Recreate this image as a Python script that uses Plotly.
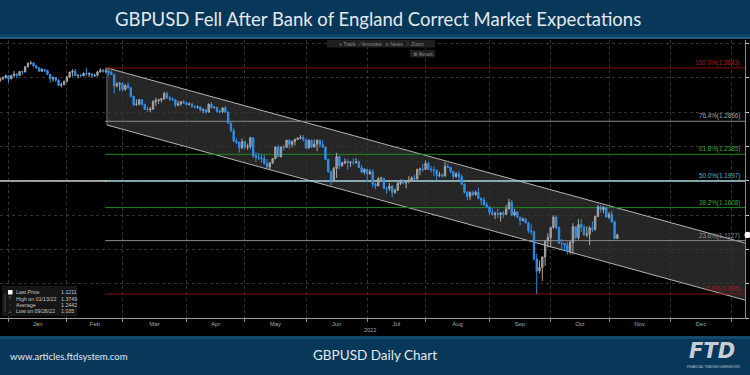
import pandas as pd
import plotly.graph_objects as go

# ---------------- data (GBPUSD daily) ----------------
start_date = "2021-12-29"
end_date = "2022-11-04"

opens = [
    1.3460, 1.3485, 1.3500,
    1.3530, 1.3485, 1.3530, 1.3555, 1.3535, 1.3590, 1.3585, 1.3660, 1.3710, 1.3715, 1.3675, 1.3645, 1.3595, 1.3620, 1.3610, 1.3550, 1.3485, 1.3500, 1.3465, 1.3390, 1.3400,
    1.3450, 1.3510, 1.3580, 1.3595, 1.3530, 1.3535, 1.3530, 1.3560, 1.3555, 1.3560, 1.3530, 1.3535, 1.3585, 1.3610, 1.3590, 1.3600, 1.3575, 1.3545, 1.3380, 1.3410,
    1.3415, 1.3330, 1.3390, 1.3355, 1.3230, 1.3110, 1.3115, 1.3180, 1.3110, 1.3040, 1.3035, 1.3045, 1.3150, 1.3170, 1.3180, 1.3195, 1.3270, 1.3205, 1.3190, 1.3180, 1.3100, 1.3120, 1.3150,
    1.3135, 1.3110, 1.3115, 1.3075, 1.3070, 1.3075, 1.3030, 1.3035, 1.3000, 1.3115, 1.3065, 1.3070, 1.3010, 1.3005, 1.3060, 1.3000, 1.2840, 1.2730, 1.2575, 1.2560, 1.2480,
    1.2570, 1.2490, 1.2500, 1.2625, 1.2360, 1.2340, 1.2330, 1.2320, 1.2250, 1.2200, 1.2260, 1.2320, 1.2490, 1.2350, 1.2490, 1.2485, 1.2590, 1.2530, 1.2570, 1.2600, 1.2620, 1.2630,
    1.2600, 1.2480, 1.2590, 1.2490, 1.2535, 1.2590, 1.2530, 1.2490, 1.2310, 1.2130, 1.2000, 1.2180, 1.2350, 1.2220, 1.2260, 1.2280, 1.2260, 1.2270, 1.2265, 1.2275, 1.2190, 1.2125,
    1.2165, 1.2100, 1.2130, 1.1950, 1.1925, 1.2030, 1.2035, 1.1890, 1.1885, 1.1920, 1.1830, 1.1860, 1.1960, 1.1995, 1.1970, 1.1990, 1.2010, 1.2040, 1.2030, 1.2160, 1.2170,
    1.2165, 1.2250, 1.2170, 1.2160, 1.2150, 1.2075, 1.2080, 1.2070, 1.2210, 1.2195, 1.2135, 1.2060, 1.2100, 1.2060, 1.1950, 1.1830, 1.1770, 1.1830, 1.1800, 1.1830, 1.1740, 1.1720, 1.1650,
    1.1620, 1.1540, 1.1510, 1.1520, 1.1510, 1.1530, 1.1510, 1.1590, 1.1685, 1.1500, 1.1545, 1.1470, 1.1420, 1.1440, 1.1385, 1.1270, 1.1255, 1.0860, 1.0685, 1.0735, 1.0890, 1.1120,
    1.1170, 1.1320, 1.1470, 1.1320, 1.1090, 1.1085, 1.1060, 1.0970, 1.1100, 1.1330, 1.1170, 1.1360, 1.1320, 1.1210, 1.1220, 1.1310, 1.1290, 1.1480, 1.1620, 1.1580, 1.1610,
    1.1470, 1.1510, 1.1400, 1.1160,
]
highs = [
    1.3500, 1.3520, 1.3545,
    1.3535, 1.3545, 1.3600, 1.3560, 1.3600, 1.3600, 1.3665, 1.3725, 1.3749, 1.3720, 1.3685, 1.3655, 1.3640, 1.3630, 1.3615, 1.3555, 1.3520, 1.3510, 1.3480, 1.3430, 1.3455,
    1.3530, 1.3590, 1.3625, 1.3630, 1.3550, 1.3560, 1.3580, 1.3640, 1.3580, 1.3560, 1.3560, 1.3600, 1.3640, 1.3630, 1.3643, 1.3620, 1.3605, 1.3560, 1.3440, 1.3440,
    1.3435, 1.3400, 1.3435, 1.3365, 1.3235, 1.3185, 1.3190, 1.3185, 1.3125, 1.3080, 1.3075, 1.3175, 1.3210, 1.3185, 1.3200, 1.3295, 1.3300, 1.3230, 1.3215, 1.3180, 1.3165, 1.3160, 1.3175,
    1.3150, 1.3145, 1.3135, 1.3100, 1.3100, 1.3085, 1.3055, 1.3045, 1.3125, 1.3145, 1.3080, 1.3075, 1.3035, 1.3070, 1.3090, 1.3005, 1.2850, 1.2765, 1.2620, 1.2570, 1.2615,
    1.2580, 1.2540, 1.2640, 1.2630, 1.2410, 1.2405, 1.2380, 1.2380, 1.2315, 1.2265, 1.2330, 1.2500, 1.2525, 1.2500, 1.2525, 1.2600, 1.2600, 1.2590, 1.2615, 1.2635, 1.2665, 1.2665,
    1.2610, 1.2600, 1.2600, 1.2600, 1.2600, 1.2600, 1.2590, 1.2500, 1.2320, 1.2150, 1.2205, 1.2405, 1.2365, 1.2275, 1.2325, 1.2315, 1.2290, 1.2325, 1.2330, 1.2295, 1.2230, 1.2180,
    1.2170, 1.2165, 1.2165, 1.1970, 1.2055, 1.2060, 1.2040, 1.1910, 1.1970, 1.1935, 1.1885, 1.1985, 1.2020, 1.2020, 1.2010, 1.2065, 1.2065, 1.2090, 1.2180, 1.2190, 1.2245,
    1.2295, 1.2280, 1.2215, 1.2205, 1.2165, 1.2130, 1.2110, 1.2275, 1.2250, 1.2200, 1.2140, 1.2125, 1.2145, 1.2095, 1.1960, 1.1850, 1.1845, 1.1855, 1.1860, 1.1900, 1.1760, 1.1760, 1.1690,
    1.1620, 1.1600, 1.1550, 1.1590, 1.1545, 1.1560, 1.1645, 1.1738, 1.1720, 1.1590, 1.1560, 1.1475, 1.1465, 1.1460, 1.1405, 1.1370, 1.1275, 1.0935, 1.0840, 1.0900, 1.1120, 1.1235,
    1.1320, 1.1495, 1.1495, 1.1330, 1.1150, 1.1090, 1.1110, 1.1120, 1.1380, 1.1340, 1.1440, 1.1440, 1.1360, 1.1335, 1.1340, 1.1410, 1.1490, 1.1645, 1.1640, 1.1630, 1.1615,
    1.1545, 1.1565, 1.1420, 1.1230,
]
lows = [
    1.3440, 1.3465, 1.3490,
    1.3430, 1.3475, 1.3515, 1.3490, 1.3525, 1.3545, 1.3580, 1.3650, 1.3690, 1.3655, 1.3630, 1.3590, 1.3585, 1.3580, 1.3540, 1.3430, 1.3445, 1.3440, 1.3375, 1.3358, 1.3390,
    1.3430, 1.3495, 1.3520, 1.3520, 1.3490, 1.3510, 1.3520, 1.3530, 1.3510, 1.3500, 1.3510, 1.3520, 1.3575, 1.3575, 1.3565, 1.3530, 1.3540, 1.3272, 1.3360, 1.3310,
    1.3300, 1.3310, 1.3340, 1.3210, 1.3085, 1.3090, 1.3100, 1.3090, 1.3030, 1.3005, 1.3000, 1.3030, 1.3090, 1.3120, 1.3140, 1.3180, 1.3200, 1.3160, 1.3165, 1.3070, 1.3085, 1.3090, 1.3120,
    1.3090, 1.3100, 1.3070, 1.3050, 1.3050, 1.3010, 1.2985, 1.2975, 1.2990, 1.3050, 1.3050, 1.2990, 1.2975, 1.2985, 1.2985, 1.2825, 1.2705, 1.2565, 1.2530, 1.2410, 1.2460,
    1.2460, 1.2450, 1.2460, 1.2335, 1.2275, 1.2300, 1.2265, 1.2235, 1.2165, 1.2155, 1.2240, 1.2315, 1.2345, 1.2340, 1.2440, 1.2480, 1.2465, 1.2485, 1.2515, 1.2590, 1.2600, 1.2570,
    1.2460, 1.2465, 1.2480, 1.2485, 1.2430, 1.2485, 1.2485, 1.2300, 1.2115, 1.1933, 1.1990, 1.2040, 1.2170, 1.2200, 1.2240, 1.2160, 1.2200, 1.2230, 1.2250, 1.2185, 1.2110, 1.2090,
    1.1975, 1.2085, 1.1900, 1.1875, 1.1920, 1.1990, 1.1870, 1.1810, 1.1850, 1.1760, 1.1810, 1.1850, 1.1935, 1.1950, 1.1890, 1.1960, 1.1995, 1.2010, 1.2015, 1.2080, 1.2130,
    1.2155, 1.2150, 1.2120, 1.2065, 1.2005, 1.2050, 1.2045, 1.2060, 1.2185, 1.2105, 1.2025, 1.2045, 1.2010, 1.1935, 1.1815, 1.1715, 1.1720, 1.1775, 1.1780, 1.1730, 1.1645, 1.1635, 1.1600,
    1.1500, 1.1490, 1.1440, 1.1455, 1.1405, 1.1460, 1.1500, 1.1580, 1.1480, 1.1480, 1.1455, 1.1350, 1.1405, 1.1380, 1.1235, 1.1210, 1.0840, 1.0350, 1.0650, 1.0540, 1.0760, 1.1025,
    1.1025, 1.1300, 1.1290, 1.1080, 1.1000, 1.0995, 1.0925, 1.0925, 1.0925, 1.1145, 1.1140, 1.1255, 1.1200, 1.1175, 1.1060, 1.1250, 1.1270, 1.1470, 1.1535, 1.1525, 1.1460,
    1.1440, 1.1390, 1.1145, 1.1150,
]
closes = [
    1.3485, 1.3500, 1.3530,
    1.3485, 1.3530, 1.3555, 1.3535, 1.3590, 1.3585, 1.3660, 1.3710, 1.3715, 1.3675, 1.3645, 1.3595, 1.3620, 1.3610, 1.3550, 1.3485, 1.3500, 1.3465, 1.3390, 1.3400, 1.3450,
    1.3510, 1.3580, 1.3595, 1.3530, 1.3535, 1.3530, 1.3560, 1.3555, 1.3560, 1.3530, 1.3535, 1.3585, 1.3610, 1.3590, 1.3600, 1.3575, 1.3545, 1.3380, 1.3410, 1.3415,
    1.3330, 1.3390, 1.3355, 1.3230, 1.3110, 1.3115, 1.3180, 1.3110, 1.3040, 1.3035, 1.3045, 1.3150, 1.3170, 1.3180, 1.3195, 1.3270, 1.3205, 1.3190, 1.3180, 1.3100, 1.3120, 1.3150, 1.3135,
    1.3110, 1.3115, 1.3075, 1.3070, 1.3075, 1.3030, 1.3035, 1.3000, 1.3115, 1.3065, 1.3070, 1.3010, 1.3005, 1.3060, 1.3000, 1.2840, 1.2730, 1.2575, 1.2560, 1.2480, 1.2570,
    1.2490, 1.2500, 1.2625, 1.2360, 1.2340, 1.2330, 1.2320, 1.2250, 1.2200, 1.2260, 1.2320, 1.2490, 1.2350, 1.2490, 1.2485, 1.2590, 1.2530, 1.2570, 1.2600, 1.2620, 1.2630, 1.2600,
    1.2480, 1.2590, 1.2490, 1.2535, 1.2590, 1.2530, 1.2490, 1.2310, 1.2130, 1.2000, 1.2180, 1.2350, 1.2220, 1.2260, 1.2280, 1.2260, 1.2270, 1.2265, 1.2275, 1.2190, 1.2125, 1.2165,
    1.2100, 1.2130, 1.1950, 1.1925, 1.2030, 1.2035, 1.1890, 1.1885, 1.1920, 1.1830, 1.1860, 1.1960, 1.1995, 1.1970, 1.1990, 1.2010, 1.2040, 1.2030, 1.2160, 1.2170, 1.2165,
    1.2250, 1.2170, 1.2160, 1.2150, 1.2075, 1.2080, 1.2070, 1.2210, 1.2195, 1.2135, 1.2060, 1.2100, 1.2060, 1.1950, 1.1830, 1.1770, 1.1830, 1.1800, 1.1830, 1.1740, 1.1720, 1.1650, 1.1620,
    1.1540, 1.1510, 1.1520, 1.1510, 1.1530, 1.1510, 1.1590, 1.1685, 1.1500, 1.1545, 1.1470, 1.1420, 1.1440, 1.1385, 1.1270, 1.1255, 1.0860, 1.0685, 1.0735, 1.0890, 1.1120, 1.1170,
    1.1320, 1.1470, 1.1320, 1.1090, 1.1085, 1.1060, 1.0970, 1.1100, 1.1330, 1.1170, 1.1360, 1.1320, 1.1210, 1.1220, 1.1310, 1.1290, 1.1480, 1.1620, 1.1580, 1.1610, 1.1470,
    1.1510, 1.1400, 1.1160, 1.1211,
]

month_labels = ["Jan", "Feb", "Mar", "Apr", "May", "Jun", "Jul", "Aug", "Sep", "Oct", "Nov", "Dec"]
year_label = "2022"

fib_pcts = ["100.0%", "76.4%", "61.8%", "50.0%", "38.2%", "23.6%", "0.0%"]
fib_prices = [1.3643, 1.2866, 1.2385, 1.1997, 1.1608, 1.1127, 1.035]
fib_price_text = ["1.3643", "1.2866", "1.2385", "1.1997", "1.1608", "1.1127", "1.035"]

channel_start_date = "2022-02-21"
channel_upper = [1.3643, 1.1092]   # at channel start / right edge
channel_lower = [1.2812, 1.0261]

legend_names = ["Last Price", "High on 01/13/22", "Average", "Low on 09/26/22"]
legend_values = ["1.1211", "1.3749", "1.2442", "1.035"]

title_text = "GBPUSD Fell After Bank of England Correct Market Expectations"
footer_center = "GBPUSD Daily Chart"
footer_left = "www.articles.ftdsystem.com"

# ---------------- x positions on a trading-day axis ----------------
dates = pd.bdate_range(start_date, end_date)
assert len(dates) == len(opens) == len(highs) == len(lows) == len(closes), (len(dates), len(opens), len(highs), len(lows), len(closes))
all_days = pd.bdate_range(start_date, "2023-01-31")
offset = list(all_days).index(pd.Timestamp("2022-01-03"))
pos = {d: i - offset for i, d in enumerate(all_days)}
xs = [pos[d] for d in dates]

month_starts, month_mids = [], []
for m in range(1, 14):
    yr, mo = (2022, m) if m <= 12 else (2023, 1)
    days = [d for d in all_days if d.year == yr and d.month == mo]
    month_starts.append(pos[days[0]])
    if m <= 12:
        month_mids.append(pos[days[0]] + len(days) / 2)

x_range = [-3.06, 264.9]
y_range = [1.0, 1.405]
ch_x0 = pos[pd.Timestamp(channel_start_date)] + 0.4
ch_x1 = x_range[1]


def PX(x):
    return x / 750


def PY(y):
    return 1 - y / 375


fig = go.Figure()
fig.add_trace(go.Candlestick(
    x=xs, open=opens, high=highs, low=lows, close=closes,
    increasing=dict(line=dict(color="#a9a9a9", width=1), fillcolor="#7d7d7d"),
    decreasing=dict(line=dict(color="#2f8fea", width=1), fillcolor="#2f8fea"),
    whiskerwidth=0, hoverinfo="skip",
))

shapes = []
annotations = []

# channel
shapes.append(dict(type="path", xref="x", yref="y", layer="below",
                   path=f"M {ch_x0},{channel_upper[0]} L {ch_x1},{channel_upper[1]} L {ch_x1},{channel_lower[1]} L {ch_x0},{channel_lower[0]} Z",
                   fillcolor="rgba(255,255,255,0.15)", line=dict(width=0)))
for yy in (channel_upper, channel_lower):
    shapes.append(dict(type="line", xref="x", yref="y", layer="between",
                       x0=ch_x0, x1=ch_x1, y0=yy[0], y1=yy[1], line=dict(color="#b4b4b4", width=1)))
shapes.append(dict(type="line", xref="x", yref="y", layer="between",
                   x0=ch_x0, x1=ch_x0, y0=channel_lower[0], y1=channel_upper[0], line=dict(color="#707070", width=1)))

# fib levels
line_cols = ["#8a0e0e", "#8c8c8c", "#1f8a1f", "#a6d6dc", "#1f8a1f", "#8c8c8c", "#8a0e0e"]
text_cols = ["#b01a1a", "#a8a8a8", "#39a539", "#5cb4c4", "#39a539", "#8e8e8e", "#b01a1a"]
shapes.append(dict(type="line", xref="x", yref="y", layer="between",
                   x0=x_range[0], x1=ch_x0, y0=fib_prices[3], y1=fib_prices[3],
                   line=dict(color="#cfcfcf", width=1.5)))
for p, lc, w in zip(fib_prices, line_cols, [1, 1, 1, 1.5, 1, 1, 1]):
    shapes.append(dict(type="line", xref="x", yref="y", layer="between",
                       x0=ch_x0 - 0.6, x1=ch_x1, y0=p, y1=p, line=dict(color=lc, width=w)))
for pct, p, pt, tc in zip(fib_pcts, fib_prices, fib_price_text, text_cols):
    annotations.append(dict(xref="paper", yref="y", x=PX(741), y=p, xanchor="right", yanchor="bottom",
                            text=f"{pct}({pt})", showarrow=False, borderpad=0,
                            font=dict(family="Liberation Sans", size=6.3, color=tc)))

# last price marker
shapes.append(dict(type="circle", xref="paper", yref="y", x0=PX(744.5), x1=PX(751),
                   y0=closes[-1] - 0.0045, y1=closes[-1] + 0.0045,
                   fillcolor="white", line=dict(width=0), layer="above"))

# title banner
shapes += [
    dict(type="rect", xref="paper", yref="paper", x0=0, x1=1, y0=PY(39), y1=1, fillcolor="#07385a", line=dict(width=0), layer="above"),
    dict(type="rect", xref="paper", yref="paper", x0=0, x1=1, y0=PY(39), y1=PY(34), fillcolor="#0f4468", line=dict(width=0), layer="above"),
    dict(type="rect", xref="paper", yref="paper", x0=0, x1=1, y0=PY(39), y1=PY(37), fillcolor="#245a7c", line=dict(width=0), layer="above"),
]
annotations.append(dict(xref="paper", yref="paper", x=PX(378), y=PY(19), text=title_text, showarrow=False,
                        xanchor="center", yanchor="middle",
                        font=dict(family="Lato", size=18.5, color="#e3e9ee")))

# footer banner
shapes += [
    dict(type="rect", xref="paper", yref="paper", x0=0, x1=1, y0=0, y1=PY(336), fillcolor="#07385a", line=dict(width=0), layer="above"),
    dict(type="rect", xref="paper", yref="paper", x0=0, x1=1, y0=PY(339), y1=PY(336), fillcolor="#144a6c", line=dict(width=0), layer="above"),
]
annotations += [
    dict(xref="paper", yref="paper", x=PX(8), y=PY(356.5), text=footer_left, showarrow=False,
         xanchor="left", yanchor="middle", font=dict(family="Lato", size=9.5, color="#e3e9ee")),
    dict(xref="paper", yref="paper", x=PX(375), y=PY(355), text=footer_center, showarrow=False,
         xanchor="center", yanchor="middle", font=dict(family="Lato", size=13.5, color="#e3e9ee")),
    dict(xref="paper", yref="paper", x=PX(712), y=PY(351), text="<b><i>FTD</i></b>", showarrow=False,
         xanchor="center", yanchor="middle", font=dict(family="DejaVu Sans", size=21, color="#c9ced3")),
    dict(xref="paper", yref="paper", x=PX(713), y=PY(367), text="FINANCIAL TRADING DIMENSIONS", showarrow=False,
         xanchor="center", yanchor="middle", font=dict(family="Liberation Sans", size=3.2, color="#b8c0c8")),
]

# toolbar
shapes += [
    dict(type="rect", xref="paper", yref="paper", x0=PX(327), x1=PX(435), y0=PY(47.5), y1=PY(40),
         fillcolor="#1f1f1f", line=dict(width=0), layer="above"),
    dict(type="rect", xref="paper", yref="paper", x0=PX(410), x1=PX(435), y0=PY(57.5), y1=PY(50),
         fillcolor="#1f1f1f", line=dict(width=0), layer="above"),
]
annotations += [
    dict(xref="paper", yref="paper", x=PX(381), y=PY(43.8), text="+ Track   ⁄ Annotate   ≡ News   ○ Zoom",
         showarrow=False, xanchor="center", yanchor="middle", font=dict(family="Liberation Sans", size=5, color="#8c8c8c")),
    dict(xref="paper", yref="paper", x=PX(422.5), y=PY(53.8), text="⚙ Reset",
         showarrow=False, xanchor="center", yanchor="middle", font=dict(family="DejaVu Sans", size=5, color="#9a9a9a")),
]

# stats box
shapes.append(dict(type="rect", xref="paper", yref="paper", x0=PX(2), x1=PX(77), y0=PY(316), y1=PY(286),
                   fillcolor="#161616", line=dict(width=0), layer="above"))
shapes.append(dict(type="rect", xref="paper", yref="paper", x0=PX(8), x1=PX(12.5), y0=PY(294.5), y1=PY(290),
                   fillcolor="white", line=dict(width=0), layer="above"))
shapes.append(dict(type="line", xref="paper", yref="paper", x0=PX(5), x1=PX(5), y0=PY(312), y1=PY(294),
                   line=dict(color="#666", width=0.6), layer="above"))
icons = ["", "⊤", "-", "⊥"]
for i, (nm, val, ic) in enumerate(zip(legend_names, legend_values, icons)):
    yy = 292.3 + i * 6.3
    if ic:
        annotations.append(dict(xref="paper", yref="paper", x=PX(10), y=PY(yy), text=ic, showarrow=False,
                                xanchor="center", yanchor="middle", font=dict(family="DejaVu Sans", size=4.5, color="#9a9a9a")))
    annotations.append(dict(xref="paper", yref="paper", x=PX(14), y=PY(yy), text=nm, showarrow=False,
                            xanchor="left", yanchor="middle", font=dict(family="Liberation Sans", size=5.3, color="#c4c4c4")))
    annotations.append(dict(xref="paper", yref="paper", x=PX(59), y=PY(yy), text=val, showarrow=False,
                            xanchor="left", yanchor="middle", font=dict(family="Liberation Sans", size=5.3, color="#c4c4c4")))

# year label
annotations.append(dict(xref="x", yref="paper", x=month_mids[6] - 9.5, y=PY(329.5), text=year_label, showarrow=False,
                        xanchor="center", yanchor="middle", font=dict(family="Liberation Sans", size=5.5, color="#a8a8a8")))

fig.update_layout(
    width=750, height=375, margin=dict(l=0, r=0, t=0, b=0),
    paper_bgcolor="black", plot_bgcolor="black", showlegend=False,
    shapes=shapes, annotations=annotations,
    xaxis=dict(domain=[0, PX(745)], range=x_range, rangeslider=dict(visible=False),
               tickmode="array", tickvals=month_mids, ticktext=month_labels, ticks="",
               tickfont=dict(family="Liberation Sans", size=6, color="#a8a8a8"),
               showgrid=False, zeroline=False, showline=True, linecolor="#9a9a9a", linewidth=1,
               minor=dict(tickmode="array", tickvals=month_starts, showgrid=True, gridcolor="#343434",
                          griddash="dot", gridwidth=1, ticks="outside", ticklen=3, tickcolor="#8a8a8a")),
    yaxis=dict(domain=[PY(318), PY(40)], range=y_range, side="right",
               showticklabels=False, ticks="outside", ticklen=3, tickcolor="#d0d0d0",
               tick0=1.0, dtick=0.05, showgrid=True, gridcolor="#343434", griddash="dot",
               zeroline=False, showline=True, linecolor="#8a8a8a"),
)

fig.write_html(
    "out.html",
    config={"displayModeBar": False},
    post_script="document.body.style.margin='0px';document.body.style.overflow='hidden';",
)
